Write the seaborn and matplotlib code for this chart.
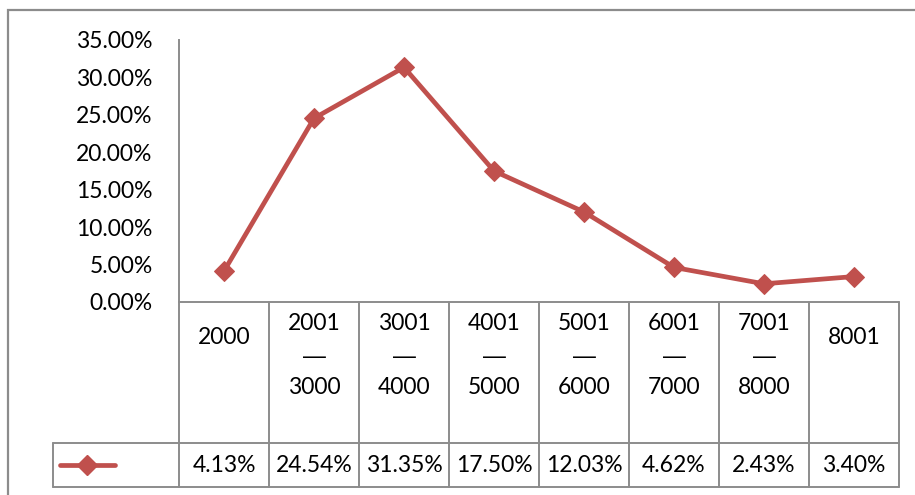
import numpy as np
import pandas as pd
import seaborn as sns
import matplotlib.pyplot as plt
from matplotlib.lines import Line2D
from matplotlib.patches import Rectangle
from matplotlib.ticker import PercentFormatter
from matplotlib.transforms import blended_transform_factory

# data
categories = ["2000", "2001\n—\n3000", "3001\n—\n4000", "4001\n—\n5000",
              "5001\n—\n6000", "6001\n—\n7000", "7001\n—\n8000", "8001"]
shares = [4.13, 24.54, 31.35, 17.50, 12.03, 4.62, 2.43, 3.40]
value_labels = ["4.13%", "24.54%", "31.35%", "17.50%", "12.03%", "4.62%", "2.43%", "3.40%"]
yticks = [0, 5, 10, 15, 20, 25, 30, 35]

df = pd.DataFrame({"pos": np.arange(len(shares)), "share": shares})

sns.set_style("white")
plt.rcParams["font.family"] = ["Lato", "DejaVu Sans"]
plt.rcParams["text.color"] = "black"
plt.rcParams["ytick.color"] = "black"

red = "#C0504D"
grid_c = "#8C8C8C"
W, H = 915, 495
fs = 16.5

def fx(x):
    return x / W

def fy(y):
    return 1 - y / H

fig = plt.figure(figsize=(W / 100, H / 100), dpi=100)
ax = fig.add_axes([fx(179), fy(302), fx(899) - fx(179), fy(40) - fy(302)])

sns.lineplot(data=df, x="pos", y="share", ax=ax, color=red, linewidth=3.4,
             marker="D", markersize=10.5, markeredgecolor=red)

ax.set_xlim(-0.5, len(shares) - 0.5)
ax.set_ylim(0, 35)
ax.set_yticks(yticks)
ax.yaxis.set_major_formatter(PercentFormatter(decimals=2))
ax.set_xticks([])
ax.set_xlabel("")
ax.set_ylabel("")
ax.tick_params(axis="y", length=0, pad=19, labelsize=fs, labelcolor="black")
for s in ["top", "right", "bottom"]:
    ax.spines[s].set_visible(False)
ax.spines["left"].set_color(grid_c)
ax.spines["left"].set_linewidth(1.4)

# data table under the axis
tr = blended_transform_factory(ax.transData, fig.transFigure)
n = len(shares)
lw = 1.4

def hline(x0, x1, y):
    fig.add_artist(Line2D([x0, x1], [fy(y), fy(y)], transform=tr, color=grid_c, lw=lw))

def vline(x, y0, y1):
    fig.add_artist(Line2D([x, x], [fy(y0), fy(y1)], transform=tr, color=grid_c, lw=lw))

legend_left = -1.9
hline(-0.5, n - 0.5, 302)
hline(legend_left, n - 0.5, 443)
hline(legend_left, n - 0.5, 487)
for i in range(n + 1):
    vline(i - 0.5, 302, 487)
vline(legend_left, 443, 487)

for i, (cat, lab) in enumerate(zip(categories, value_labels)):
    parts = cat.split("\n")
    ys = [338] if len(parts) == 1 else [323, 356, 388]
    for p, y in zip(parts, ys):
        fam = ["Liberation Sans"] if p == "—" else ["Lato", "DejaVu Sans"]
        fig.text(i, fy(y), p, transform=tr, ha="center", va="center",
                 fontsize=fs, family=fam)
    fig.text(i, fy(465), lab, transform=tr, ha="center", va="center", fontsize=fs)

# legend key in the table
fig.add_artist(Line2D([fx(60), fx(115)], [fy(465), fy(465)], transform=fig.transFigure,
                      color=red, lw=3.4, solid_capstyle="round"))
fig.add_artist(Line2D([fx(87)], [fy(465)], transform=fig.transFigure, color=red,
                      marker="D", markersize=10.5, markeredgecolor=red))

# chart frame
fig.add_artist(Rectangle((fx(8), fy(520)), fx(940) - fx(8), fy(10) - fy(520),
                         transform=fig.transFigure, fill=False, edgecolor=grid_c, lw=1.6))

fig.savefig("out.png", dpi=100)
